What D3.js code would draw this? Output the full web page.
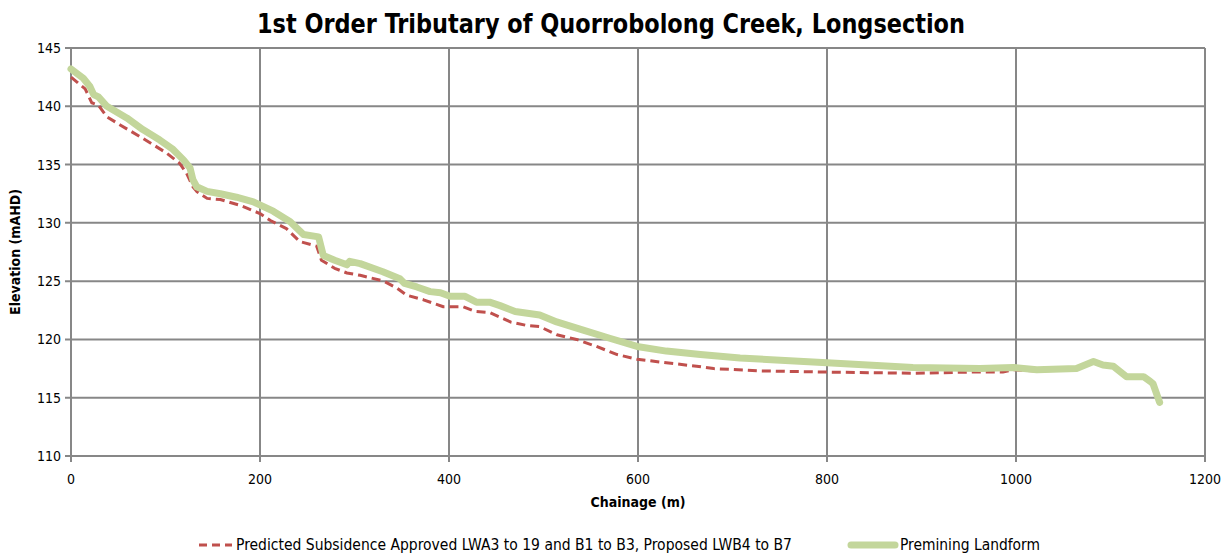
<!DOCTYPE html>
<html>
<head>
<meta charset="utf-8">
<script src="https://cdn.jsdelivr.net/npm/d3@7"></script>
<style>
body { margin: 0; background: #fff; }
svg text { font-family: "Liberation Sans Narrow", "Arial Narrow", "DejaVu Sans Condensed", sans-serif; fill: #000; }
</style>
</head>
<body>
<svg id="chart" width="1231" height="556"></svg>
<script>
// chainage (m) / elevation (mAHD)
const premChain = [0, 13, 20, 24, 29, 38, 59, 76, 94, 108, 119, 126, 129, 133, 144, 158, 175, 193, 214, 232, 246, 262, 267, 279, 292, 295, 306, 330, 348, 353, 366, 380, 391, 401, 417, 429, 443, 454, 470, 496, 514, 542, 570, 599, 630, 666, 708, 800, 891, 962, 997, 1022, 1064, 1082, 1092, 1103, 1117, 1135, 1142, 1145, 1152];
const premElev = [143.2, 142.4, 141.7, 141.0, 140.8, 140.0, 139.0, 138.0, 137.1, 136.3, 135.4, 134.7, 133.7, 133.1, 132.7, 132.5, 132.2, 131.8, 131.0, 130.1, 129.0, 128.8, 127.2, 126.8, 126.4, 126.7, 126.5, 125.8, 125.2, 124.8, 124.5, 124.1, 124.0, 123.7, 123.7, 123.2, 123.2, 122.9, 122.4, 122.1, 121.5, 120.8, 120.1, 119.4, 119.0, 118.7, 118.4, 118.0, 117.6, 117.5, 117.6, 117.4, 117.5, 118.1, 117.8, 117.7, 116.8, 116.8, 116.4, 116.2, 114.6];

const subsChain = [0, 15, 22, 29, 38, 52, 73, 87, 101, 115, 122, 129, 133, 144, 158, 179, 200, 211, 228, 242, 260, 265, 279, 292, 306, 331, 345, 355, 373, 394, 415, 428, 443, 465, 482, 496, 514, 535, 556, 578, 599, 630, 662, 680, 729, 800, 891, 955, 986, 997, 1022, 1064, 1082, 1092, 1103, 1117, 1135, 1142, 1145, 1152];
const subsElev = [142.5, 141.5, 140.3, 140.1, 139.1, 138.4, 137.4, 136.7, 136.0, 135.1, 134.3, 133.1, 132.7, 132.1, 132.0, 131.5, 130.8, 130.2, 129.5, 128.4, 128.0, 126.8, 126.1, 125.7, 125.5, 125.0, 124.4, 123.8, 123.4, 122.8, 122.8, 122.4, 122.3, 121.5, 121.2, 121.1, 120.4, 120.0, 119.4, 118.7, 118.3, 118.0, 117.7, 117.5, 117.3, 117.2, 117.1, 117.2, 117.2, 117.4, 117.3, 117.4, 118.0, 117.7, 117.6, 116.7, 116.7, 116.3, 116.1, 114.5];

const xTicks = [0, 200, 400, 600, 800, 1000, 1200];
const yTicks = [110, 115, 120, 125, 130, 135, 140, 145];

const seriesNames = ["Predicted Subsidence Approved LWA3 to 19 and B1 to B3, Proposed LWB4 to B7", "Premining Landform"];

const svg = d3.select("#chart");
const margin = { left: 71, right: 26, top: 48, bottom: 100 };
const width = 1231, height = 556;

const x = d3.scaleLinear().domain([0, 1200]).range([margin.left, width - margin.right]);
const y = d3.scaleLinear().domain([110, 145]).range([height - margin.bottom, margin.top]);

const gridColor = "#878787";

// gridlines
svg.append("g")
  .selectAll("line.h")
  .data(yTicks)
  .enter().append("line")
  .attr("x1", x(0) - 6).attr("x2", x(1200))
  .attr("y1", d => y(d)).attr("y2", d => y(d))
  .attr("stroke", gridColor).attr("stroke-width", 2);

svg.append("g")
  .selectAll("line.v")
  .data(xTicks)
  .enter().append("line")
  .attr("x1", d => x(d)).attr("x2", d => x(d))
  .attr("y1", y(145)).attr("y2", y(110) + 6)
  .attr("stroke", gridColor).attr("stroke-width", 2);

// tick labels
svg.append("g")
  .selectAll("text")
  .data(yTicks)
  .enter().append("text")
  .attr("x", x(0) - 10).attr("y", d => y(d) + 5)
  .attr("text-anchor", "end").attr("font-size", 14)
  .text(d => d);

svg.append("g")
  .selectAll("text")
  .data(xTicks)
  .enter().append("text")
  .attr("x", d => x(d)).attr("y", y(110) + 28)
  .attr("text-anchor", "middle").attr("font-size", 14)
  .text(d => d);

// titles
svg.append("text")
  .attr("x", 611).attr("y", 33)
  .attr("text-anchor", "middle").attr("font-size", 26).attr("font-weight", "bold")
  .attr("textLength", 708).attr("lengthAdjust", "spacingAndGlyphs")
  .text("1st Order Tributary of Quorrobolong Creek, Longsection");

svg.append("text")
  .attr("x", x(600)).attr("y", 507)
  .attr("text-anchor", "middle").attr("font-size", 14).attr("font-weight", "bold")
  .text("Chainage (m)");

svg.append("text")
  .attr("transform", `translate(20, ${y(127.5)}) rotate(-90)`)
  .attr("text-anchor", "middle").attr("font-size", 14).attr("font-weight", "bold")
  .text("Elevation (mAHD)");

// lines
const line = d3.line().x(d => x(d[0])).y(d => y(d[1]));

const subs = subsChain.map((c, i) => [c, subsElev[i]]);
const prem = premChain.map((c, i) => [c, premElev[i]]);

svg.append("path")
  .datum(subs)
  .attr("d", line)
  .attr("fill", "none")
  .attr("stroke", "#c0504d")
  .attr("stroke-width", 3)
  .attr("stroke-dasharray", "9,5")
  .attr("stroke-linejoin", "round");

svg.append("path")
  .datum(prem)
  .attr("d", line)
  .attr("fill", "none")
  .attr("stroke", "#c3d69b")
  .attr("stroke-width", 7)
  .attr("stroke-linejoin", "round")
  .attr("stroke-linecap", "round");

// legend
const legY = 545;
svg.append("line")
  .attr("x1", 199).attr("x2", 232).attr("y1", legY).attr("y2", legY)
  .attr("stroke", "#c0504d").attr("stroke-width", 3).attr("stroke-dasharray", "8,5");
svg.append("text")
  .attr("x", 236).attr("y", legY + 5).attr("font-size", 15)
  .attr("textLength", 556).attr("lengthAdjust", "spacingAndGlyphs")
  .text(seriesNames[0]);

svg.append("line")
  .attr("x1", 851).attr("x2", 895).attr("y1", legY).attr("y2", legY)
  .attr("stroke", "#c3d69b").attr("stroke-width", 7).attr("stroke-linecap", "round");
svg.append("text")
  .attr("x", 900).attr("y", legY + 5).attr("font-size", 15)
  .attr("textLength", 140).attr("lengthAdjust", "spacingAndGlyphs")
  .text(seriesNames[1]);
</script>
</body>
</html>
